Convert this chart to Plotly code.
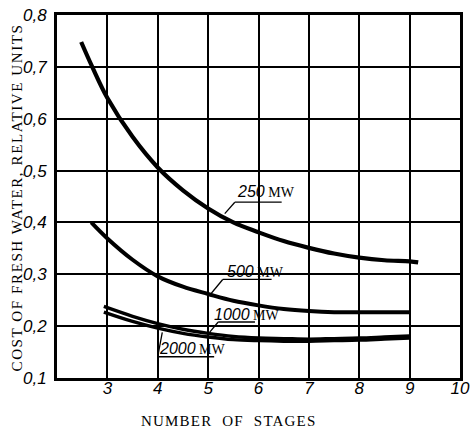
import plotly.graph_objects as go

# Cost of fresh water vs. number of stages, for four plant capacities
x_250 = [2.48, 2.7, 3.0, 3.5, 4.0, 4.5, 5.0, 5.5, 6.0, 6.5, 7.0, 7.5, 8.0, 8.5, 9.0, 9.17]
y_250 = [0.748, 0.700, 0.640, 0.565, 0.506, 0.462, 0.427, 0.400, 0.381, 0.364, 0.351, 0.340, 0.332, 0.327, 0.325, 0.323]

x_500 = [2.68, 3.0, 3.5, 4.0, 4.5, 5.0, 5.5, 6.0, 6.5, 7.0, 7.5, 8.0, 8.5, 9.0]
y_500 = [0.400, 0.369, 0.328, 0.296, 0.276, 0.262, 0.249, 0.240, 0.233, 0.229, 0.227, 0.227, 0.227, 0.227]

x_1000 = [2.93, 3.5, 4.0, 4.5, 5.0, 5.5, 6.0, 6.5, 7.0, 7.5, 8.0, 8.5, 9.0]
y_1000 = [0.238, 0.219, 0.205, 0.194, 0.186, 0.180, 0.177, 0.176, 0.175, 0.176, 0.177, 0.179, 0.181]

x_2000 = [2.93, 3.5, 4.0, 4.5, 5.0, 5.5, 6.0, 6.5, 7.0, 7.5, 8.0, 8.5, 9.0]
y_2000 = [0.227, 0.209, 0.196, 0.186, 0.179, 0.174, 0.172, 0.171, 0.171, 0.172, 0.173, 0.175, 0.177]

x_ticks = [3, 4, 5, 6, 7, 8, 9, 10]
y_ticks = [0.1, 0.2, 0.3, 0.4, 0.5, 0.6, 0.7, 0.8]
y_tick_text = ["0,1", "0,2", "0,3", "0,4", "0,5", "0,6", "0,7", "0,8"]

series = [
    (x_250, y_250, 4.2),
    (x_500, y_500, 4.0),
    (x_1000, y_1000, 3.4),
    (x_2000, y_2000, 3.4),
]

fig = go.Figure()
for xs, ys, w in series:
    fig.add_trace(go.Scatter(x=xs, y=ys, mode="lines", line=dict(color="black", width=w, shape="spline"),
                             showlegend=False, hoverinfo="skip"))

# Callout labels: (text, label x, label y, underline x0, underline x1, underline y, leader end x, leader end y)
callouts = [
    ("250", 6.15, 0.459, 5.53, 6.46, 0.439, 5.33, 0.417),
    ("500", 5.95, 0.306, 5.29, 6.26, 0.290, 5.06, 0.263),
    ("1000", 5.78, 0.223, 5.20, 5.93, 0.208, 5.02, 0.187),
    ("2000", 4.69, 0.156, 4.00, 5.12, 0.141, 4.09, 0.188),
]
for num, tx, ty, ux0, ux1, uy, lx, ly in callouts:
    fig.add_annotation(
        x=tx, y=ty, xref="x", yref="y", showarrow=False,
        text=f"<i>{num}</i><span style='font-family:Liberation Serif;font-size:14px'> MW</span>",
        font=dict(family="Liberation Sans", size=16, color="black"),
    )
    fig.add_shape(type="line", x0=ux0, x1=ux1, y0=uy, y1=uy, xref="x", yref="y",
                  line=dict(color="black", width=1.3))
    fig.add_shape(type="line", x0=ux0, x1=lx, y0=uy, y1=ly, xref="x", yref="y",
                  line=dict(color="black", width=1.3))

axis_common = dict(
    showgrid=True, gridcolor="black", gridwidth=1.7, zeroline=False,
    showline=True, linecolor="black", linewidth=2.8, mirror=True,
    ticks="", tickfont=dict(family="Liberation Sans", size=17, color="black", style="italic"),
    ticklabeloverflow="allow",
)

fig.update_xaxes(range=[2, 10], tickvals=x_ticks, ticktext=[str(v) for v in x_ticks], ticklabelstandoff=-7,
                 **axis_common)
fig.update_yaxes(range=[0.1, 0.8], tickvals=y_ticks, ticktext=y_tick_text, ticklabelstandoff=4,
                 **axis_common)

# Axis titles placed in pixel terms, then converted to paper coordinates
L, R, T, B = 57, 6, 14, 56
W, H = 476, 434
pw, ph = W - L - R, H - T - B

fig.add_annotation(x=(233 - L) / pw, y=(H - B - 421) / ph, xref="paper", yref="paper",
                   xanchor="center", yanchor="middle", showarrow=False,
                   text="<span style='letter-spacing:1.2px;word-spacing:5px'>NUMBER OF STAGES</span>",
                   font=dict(family="Liberation Serif", size=15, color="black"))
fig.add_annotation(x=(17 - L) / pw, y=(H - B - 197) / ph, xref="paper", yref="paper",
                   xanchor="center", yanchor="middle", showarrow=False, textangle=-90,
                   text="<span style='letter-spacing:1.6px'>COST OF FRESH WATER, RELATIVE UNITS</span>",
                   font=dict(family="Liberation Serif", size=15, color="black"))

fig.update_layout(
    width=W, height=H,
    margin=dict(l=L, r=R, t=T, b=B),
    paper_bgcolor="white", plot_bgcolor="white",
)

fig.write_html("out.html")
